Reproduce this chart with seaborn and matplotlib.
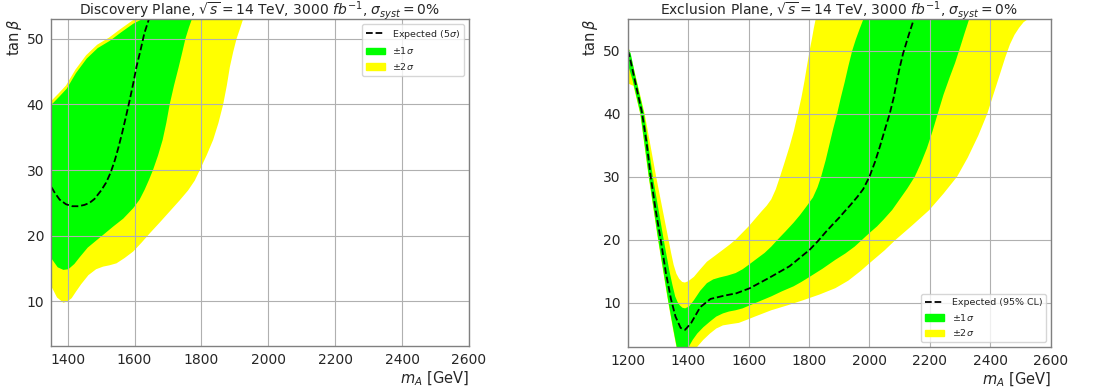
import seaborn as sns
import matplotlib
matplotlib.use("Agg")
import matplotlib.pyplot as plt
from matplotlib.lines import Line2D
from matplotlib.patches import Patch

# ---- discovery plane (left) : m_A [GeV], tan beta ----
disc_exp_x = [1335, 1350, 1362, 1376, 1395, 1414, 1432, 1450, 1465, 1480, 1500, 1515, 1529, 1541, 1552,
              1563, 1574, 1586, 1596, 1606, 1618, 1629, 1646, 1660]
disc_exp_y = [28.6, 27.5, 26.5, 25.5, 24.8, 24.5, 24.5, 24.7, 25.0, 25.6, 26.9, 28.1, 29.7, 31.5, 33.5,
              35.7, 38.1, 40.8, 43.2, 45.8, 48.3, 50.8, 53.5, 56.0]

disc_p1_x = [1300, 1330, 1352, 1370, 1387, 1402, 1420, 1437, 1460, 1486, 1510, 1536, 1566, 1596, 1615,
             1630, 1643, 1655, 1670, 1684, 1695, 1705, 1718, 1732, 1742, 1752, 1763, 1775, 1790]
disc_p1_y = [21.0, 18.0, 16.5, 15.2, 14.8, 14.9, 15.7, 16.8, 18.2, 19.3, 20.3, 21.4, 22.6, 24.2, 25.5,
             27.0, 28.5, 30.0, 32.2, 34.6, 37.2, 40.0, 42.9, 45.7, 47.8, 50.0, 51.8, 53.5, 56.0]
disc_m1_x = [1300, 1320, 1352, 1375, 1397, 1425, 1457, 1490, 1526, 1560, 1596, 1630, 1700]
disc_m1_y = [37.0, 38.5, 40.0, 41.2, 42.4, 44.8, 47.0, 48.6, 49.7, 51.0, 52.3, 53.2, 55.5]

disc_p2_x = [1320, 1335, 1352, 1368, 1387, 1400, 1412, 1425, 1440, 1462, 1485, 1506, 1525, 1546, 1570,
             1596, 1620, 1646, 1675, 1705, 1735, 1760, 1780, 1795, 1815, 1835, 1851, 1865, 1876, 1885,
             1895, 1905, 1915, 1924, 1940]
disc_p2_y = [17.0, 14.2, 12.2, 10.6, 9.8, 10.0, 10.5, 11.5, 12.6, 14.0, 14.9, 15.3, 15.5, 15.8, 16.6,
             17.6, 18.9, 20.4, 22.0, 23.7, 25.4, 26.9, 28.4, 30.0, 32.2, 34.6, 37.2, 40.0, 42.9, 45.7,
             48.0, 50.0, 51.5, 52.9, 56.0]
disc_m2_x = [1300, 1320, 1350, 1373, 1395, 1423, 1455, 1488, 1524, 1558, 1594, 1628, 1700]
disc_m2_y = [37.5, 39.0, 40.5, 41.7, 42.9, 45.3, 47.5, 49.1, 50.2, 51.5, 52.8, 53.7, 55.8]

# ---- exclusion plane (right) ----
excl_exp_x = [1200, 1205, 1222, 1247, 1262, 1276, 1292, 1309, 1326, 1343, 1358, 1375, 1390, 1410, 1440,
              1474, 1518, 1560, 1604, 1670, 1736, 1802, 1830, 1855, 1880, 1900, 1920, 1937, 1960, 1979,
              2000, 2018, 2034, 2050, 2067, 2080, 2090, 2100, 2111, 2130, 2147, 2160]
excl_exp_y = [50.0, 49.3, 45.6, 40.2, 35.5, 30.0, 24.8, 20.0, 14.8, 10.6, 7.8, 6.0, 5.7, 6.8, 9.3,
              10.6, 11.1, 11.5, 12.3, 14.0, 15.8, 18.4, 19.8, 21.2, 22.5, 23.5, 24.6, 25.5, 26.8, 28.0,
              30.0, 32.3, 34.7, 37.3, 40.0, 42.5, 45.0, 47.3, 49.5, 52.5, 55.0, 57.0]

excl_p1_x = [1195, 1200, 1216, 1242, 1270, 1301, 1318, 1335, 1352, 1362, 1375, 1390, 1402, 1415, 1430,
             1450, 1472, 1493, 1515, 1535, 1557, 1580, 1600, 1640, 1675, 1710, 1749, 1775, 1802, 1845,
             1887, 1920, 1951, 1976, 2001, 2025, 2047, 2075, 2100, 2125, 2150, 2170, 2190, 2208, 2226,
             2245, 2265, 2283, 2300, 2315, 2330, 2350]
excl_p1_y = [48.5, 47.9, 45.3, 40.0, 30.0, 20.0, 15.0, 10.0, 5.5, 3.0, 1.0, 0.5, 3.0, 4.1, 5.1,
             6.1, 7.0, 7.8, 8.3, 8.6, 8.8, 9.1, 9.5, 10.3, 11.0, 11.8, 12.6, 13.3, 14.1, 15.4,
             16.8, 17.8, 18.9, 20.0, 21.1, 22.1, 23.2, 24.7, 26.4, 28.1, 30.0, 32.1, 34.5, 37.1, 40.0,
             43.0, 45.7, 48.0, 50.5, 52.8, 55.0, 57.0]
excl_m1_x = [1195, 1203, 1210, 1225, 1254, 1283, 1319, 1338, 1348, 1357, 1365, 1372, 1381, 1390, 1403,
             1419, 1440, 1462, 1483, 1504, 1530, 1557, 1580, 1600, 1625, 1653, 1675, 1696, 1722, 1749,
             1770, 1792, 1813, 1828, 1840, 1855, 1868, 1880, 1893, 1905, 1918, 1930, 1943, 1955, 1968,
             1980, 1995]
excl_m1_y = [50.5, 50.3, 49.5, 46.0, 40.0, 30.0, 20.0, 15.0, 12.8, 11.0, 10.1, 9.6, 9.2, 9.1, 9.4,
             10.4, 11.9, 13.1, 13.7, 14.0, 14.3, 14.7, 15.3, 16.0, 16.9, 17.9, 18.9, 20.0, 21.3, 22.7,
             23.9, 25.3, 26.7, 28.3, 30.0, 32.6, 35.2, 37.6, 40.0, 42.5, 45.0, 47.5, 50.0, 51.8, 53.5,
             55.0, 57.0]

excl_p2_x = [1190, 1200, 1219, 1241, 1269, 1300, 1334, 1351, 1361, 1380, 1400, 1430, 1450, 1472, 1493,
             1515, 1540, 1568, 1595, 1621, 1648, 1675, 1730, 1781, 1835, 1887, 1930, 1970, 2001, 2050,
             2087, 2140, 2198, 2245, 2290, 2325, 2360, 2390, 2410, 2430, 2450, 2465, 2480, 2495, 2510,
             2540, 2620]
excl_p2_y = [46.0, 44.8, 44.4, 40.0, 30.0, 20.0, 10.0, 5.5, 3.0, 0.0, -1.0, 3.0, 4.1, 5.1, 5.9,
             6.4, 6.6, 6.8, 7.3, 7.8, 8.3, 8.8, 9.6, 10.4, 11.3, 12.3, 13.5, 15.0, 16.3, 18.3,
             20.0, 22.2, 24.7, 27.3, 30.0, 33.0, 36.5, 40.0, 43.0, 46.0, 49.0, 51.0, 52.5, 53.6, 54.5,
             55.5, 57.0]
excl_m2_x = [1195, 1205, 1226, 1256, 1294, 1335, 1344, 1352, 1361, 1370, 1380, 1389, 1400, 1419, 1440,
             1462, 1490, 1515, 1537, 1557, 1600, 1643, 1660, 1675, 1690, 1704, 1720, 1735, 1750, 1763,
             1775, 1785, 1794, 1802, 1810, 1816, 1822, 1830]
excl_m2_y = [50.6, 50.2, 46.0, 40.0, 30.0, 20.0, 17.8, 16.0, 14.6, 13.8, 13.3, 13.2, 13.4, 14.1, 15.3,
             16.5, 17.5, 18.4, 19.2, 20.0, 22.1, 24.5, 25.4, 26.4, 28.0, 30.0, 32.4, 34.7, 37.3, 40.0,
             42.6, 45.2, 47.8, 50.0, 52.0, 53.6, 55.0, 57.0]

GREEN = "#00ff00"
YELLOW = "#ffff00"

sns.set_style("whitegrid", {"grid.color": "#b0b0b0", "axes.edgecolor": "0.5"})
plt.rcParams["font.family"] = ["DejaVu Sans"]

fig = plt.figure(figsize=(10.94, 3.91), dpi=100)
axL = fig.add_axes([0.0466, 0.115, 0.382, 0.836])
axR = fig.add_axes([0.5738, 0.113, 0.3867, 0.8383])


def band(ax, px, py, mx, my, color):
    xs = list(px) + list(mx)[::-1]
    ys = list(py) + list(my)[::-1]
    ax.fill(xs, ys, color=color, lw=0, zorder=1)


def panel(ax, title, exp_x, exp_y, p1, m1, p2, m2, xlim, ylim, xticks, exp_label, loc):
    band(ax, p2[0], p2[1], m2[0], m2[1], YELLOW)
    band(ax, p1[0], p1[1], m1[0], m1[1], GREEN)
    sns.lineplot(x=exp_x, y=exp_y, sort=False, estimator=None, ax=ax, color="black",
                 linestyle="--", lw=1.3, zorder=3)
    ax.set_xlim(*xlim)
    ax.set_ylim(*ylim)
    ax.set_xticks(xticks)
    ax.set_yticks([10, 20, 30, 40, 50])
    ax.tick_params(labelsize=10, length=0, pad=5)
    ax.grid(True, color="#b0b0b0", lw=0.8)
    ax.set_axisbelow(False)
    for s in ax.spines.values():
        s.set_linewidth(1.0)
        s.set_zorder(4)
    ax.set_title(title, fontsize=10, pad=3)
    ax.set_xlabel(r"$m_A$ [GeV]", fontsize=10.5, loc="right", labelpad=2)
    ax.set_ylabel(r"$\tan\beta$", fontsize=10.5, loc="top", labelpad=2)
    handles = [Line2D([], [], color="black", linestyle="--", lw=1.3),
               Patch(color=GREEN), Patch(color=YELLOW)]
    ax.legend(handles, [exp_label, r"$\pm1\sigma$", r"$\pm2\sigma$"], loc=loc, fontsize=6.8,
              frameon=True, framealpha=0.8, edgecolor="0.8", fancybox=True)


panel(axL, r"Discovery Plane, $\sqrt{s} = 14$ TeV, 3000 $fb^{-1}$, $\sigma_{syst} = 0\%$",
      disc_exp_x, disc_exp_y, (disc_p1_x, disc_p1_y), (disc_m1_x, disc_m1_y),
      (disc_p2_x, disc_p2_y), (disc_m2_x, disc_m2_y),
      (1350, 2600), (3.2, 53), [1400, 1600, 1800, 2000, 2200, 2400, 2600],
      r"Expected (5$\sigma$)", "upper right")

panel(axR, r"Exclusion Plane, $\sqrt{s} = 14$ TeV, 3000 $fb^{-1}$, $\sigma_{syst} = 0\%$",
      excl_exp_x, excl_exp_y, (excl_p1_x, excl_p1_y), (excl_m1_x, excl_m1_y),
      (excl_p2_x, excl_p2_y), (excl_m2_x, excl_m2_y),
      (1200, 2600), (3, 55), [1200, 1400, 1600, 1800, 2000, 2200, 2400, 2600],
      "Expected (95% CL)", "lower right")

fig.savefig("out.png", dpi=100)
